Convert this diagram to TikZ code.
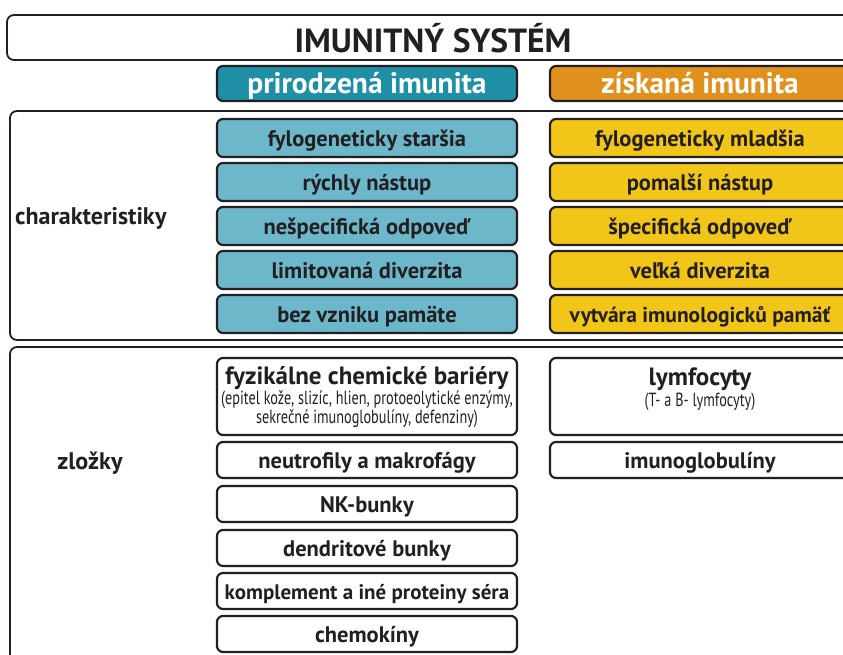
\documentclass[tikz,border=0pt]{standalone}
\usepackage{fontspec}
\setmainfont{PT Sans}
\newfontfamily\narrowfont[FakeStretch=0.75]{PT Sans}
\usetikzlibrary{positioning}

\definecolor{ink}{HTML}{231F20}
\definecolor{innate}{HTML}{1E8FA5}
\definecolor{innatelight}{HTML}{6DB7CA}
\definecolor{acquired}{HTML}{E0901C}
\definecolor{acquiredlight}{HTML}{F2C519}

\tikzset{
  frame/.style={draw=ink, line width=1.8pt, rounded corners=7pt},
  cell/.style={draw=ink, line width=2.2pt, rounded corners=6pt,
    minimum width=300pt, minimum height=38pt, inner sep=0pt, outer sep=0pt,
    text height=17pt, text depth=0pt,
    font=\bfseries\fontsize{22.5}{26}\selectfont, text=ink},
  innatecell/.style={cell, fill=innatelight},
  acquiredcell/.style={cell, fill=acquiredlight},
  partcell/.style={cell, fill=white, minimum height=36pt},
  headcell/.style={cell, minimum height=35pt, text=white, text height=20pt,
    font=\bfseries\fontsize{29.5}{32}\selectfont},
  rowlabel/.style={font=\bfseries\fontsize{24}{28}\selectfont, text=ink, inner sep=0pt}
}

\begin{document}
\begin{tikzpicture}[x=1pt, y=-1pt]
  \useasboundingbox (0,0) rectangle (843,655);
  \clip (0,0) rectangle (843,655);
  \fill[white] (0,0) rectangle (843,655);

  % ----------- rámce -----------
  \draw[frame] (7,15) rectangle (860,60);
  \node[font=\bfseries\fontsize{33.5}{38}\selectfont, text=ink] (title) at (433,38) {IMUNITNÝ SYSTÉM};
  \draw[frame] (10,111) rectangle (860,340);
  \draw[frame] (10,347) rectangle (860,680);

  % ----------- hlavičky -----------
  \node[headcell, fill=innate] (innate) at (367,83.5) {prirodzená imunita};
  \node[headcell, fill=acquired] (acquired) at (700,83.5) {získaná imunita};

  % ----------- charakteristiky -----------
  \node[rowlabel, anchor=west] (charlabel) at (15,218) {charakteristiky};

  \node[innatecell] (i1) at (367,138) {fylogeneticky staršia};
  \node[innatecell, below=6pt of i1] (i2) {rýchly nástup};
  \node[innatecell, below=6pt of i2] (i3) {nešpecifická odpoveď};
  \node[innatecell, below=6pt of i3] (i4) {limitovaná diverzita};
  \node[innatecell, below=6pt of i4] (i5) {bez vzniku pamäte};

  \node[acquiredcell] (a1) at (700,138) {fylogeneticky mladšia};
  \node[acquiredcell, below=6pt of a1] (a2) {pomalší nástup};
  \node[acquiredcell, below=6pt of a2] (a3) {špecifická odpoveď};
  \node[acquiredcell, below=6pt of a3] (a4) {veľká diverzita};
  \node[acquiredcell, below=6pt of a4, font=\bfseries\fontsize{21.5}{26}\selectfont] (a5) {vytvára imunologicků pamäť};

  % ----------- zložky -----------
  \node[rowlabel] (partlabel) at (90,463) {zložky};

  \node[partcell, minimum height=77pt] (p1) at (367,396.5) {};
  \node[text=ink, align=center, anchor=north, inner sep=0pt] (p1text) at ([yshift=-8pt]p1.north)
    {{\bfseries\fontsize{25}{26}\selectfont fyzikálne chemické bariéry}\\[0pt]
     {\narrowfont\fontsize{19}{18}\selectfont (epitel kože, slizíc, hlien, protoeolytické enzýmy,}\\
     {\narrowfont\fontsize{19}{18}\selectfont sekrečné imunoglobulíny, defenziny)}};
  \node[partcell, below=7pt of p1] (p2) {neutrofily a makrofágy};
  \node[partcell, below=8pt of p2] (p3) {NK-bunky};
  \node[partcell, below=8pt of p3] (p4) {dendritové bunky};
  \node[partcell, below=7pt of p4, font=\bfseries\fontsize{21}{26}\selectfont] (p5) {komplement a iné proteiny séra};
  \node[partcell, below=7pt of p5] (p6) {chemokíny};

  \node[partcell, minimum height=77pt] (q1) at (700,396.5) {};
  \node[text=ink, align=center, anchor=north, inner sep=0pt] (q1text) at ([yshift=-10pt]q1.north)
    {{\bfseries\fontsize{25}{26}\selectfont lymfocyty}\\[1pt]
     {\narrowfont\fontsize{19}{18}\selectfont (T- a B- lymfocyty)}};
  \node[partcell, below=7pt of q1] (q2) {imunoglobulíny};
\end{tikzpicture}
\end{document}
